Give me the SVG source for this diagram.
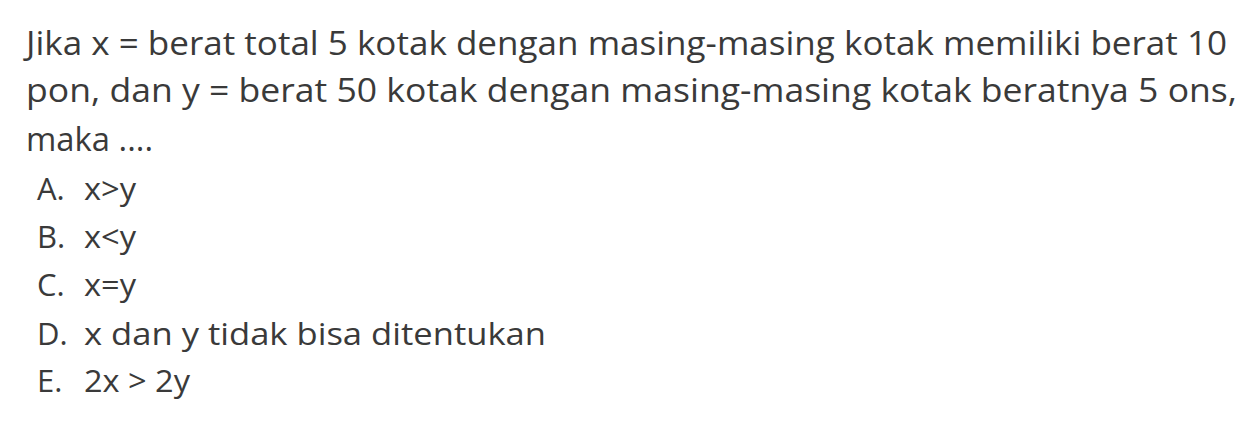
<svg xmlns="http://www.w3.org/2000/svg" width="1255" height="424" viewBox="0 0 1255 424">
<style>
.t{font-family:"Open Sans","Noto Sans","Liberation Sans",sans-serif;fill:#3a3a3a;}
.q{font-size:33px;}
.o{font-size:31px;}
</style>
<rect width="1255" height="424" fill="#ffffff"/>
<g id="question">
<text class="t q" x="26" y="55" textLength="1201" lengthAdjust="spacingAndGlyphs">Jika x = berat total 5 kotak dengan masing-masing kotak memiliki berat 10</text>
<text class="t q" x="26" y="102" textLength="1211" lengthAdjust="spacingAndGlyphs">pon, dan y = berat 50 kotak dengan masing-masing kotak beratnya 5 ons,</text>
<text class="t q" x="26" y="151" textLength="127" lengthAdjust="spacingAndGlyphs">maka ....</text>
</g>
<g id="optA">
<text class="t o" x="37" y="200">A.</text>
<text class="t o" x="84" y="200" textLength="52" lengthAdjust="spacingAndGlyphs">x&gt;y</text>
</g>
<g id="optB">
<text class="t o" x="37" y="248">B.</text>
<text class="t o" x="84" y="248" textLength="52" lengthAdjust="spacingAndGlyphs">x&lt;y</text>
</g>
<g id="optC">
<text class="t o" x="37" y="296">C.</text>
<text class="t o" x="84" y="296" textLength="52" lengthAdjust="spacingAndGlyphs">x=y</text>
</g>
<g id="optD">
<text class="t o" x="37" y="345">D.</text>
<text class="t o" x="84" y="345" textLength="462" lengthAdjust="spacingAndGlyphs">x dan y tidak bisa ditentukan</text>
</g>
<g id="optE">
<text class="t o" x="37" y="392">E.</text>
<text class="t o" x="84" y="392" textLength="106" lengthAdjust="spacingAndGlyphs">2x &gt; 2y</text>
</g>
</svg>
